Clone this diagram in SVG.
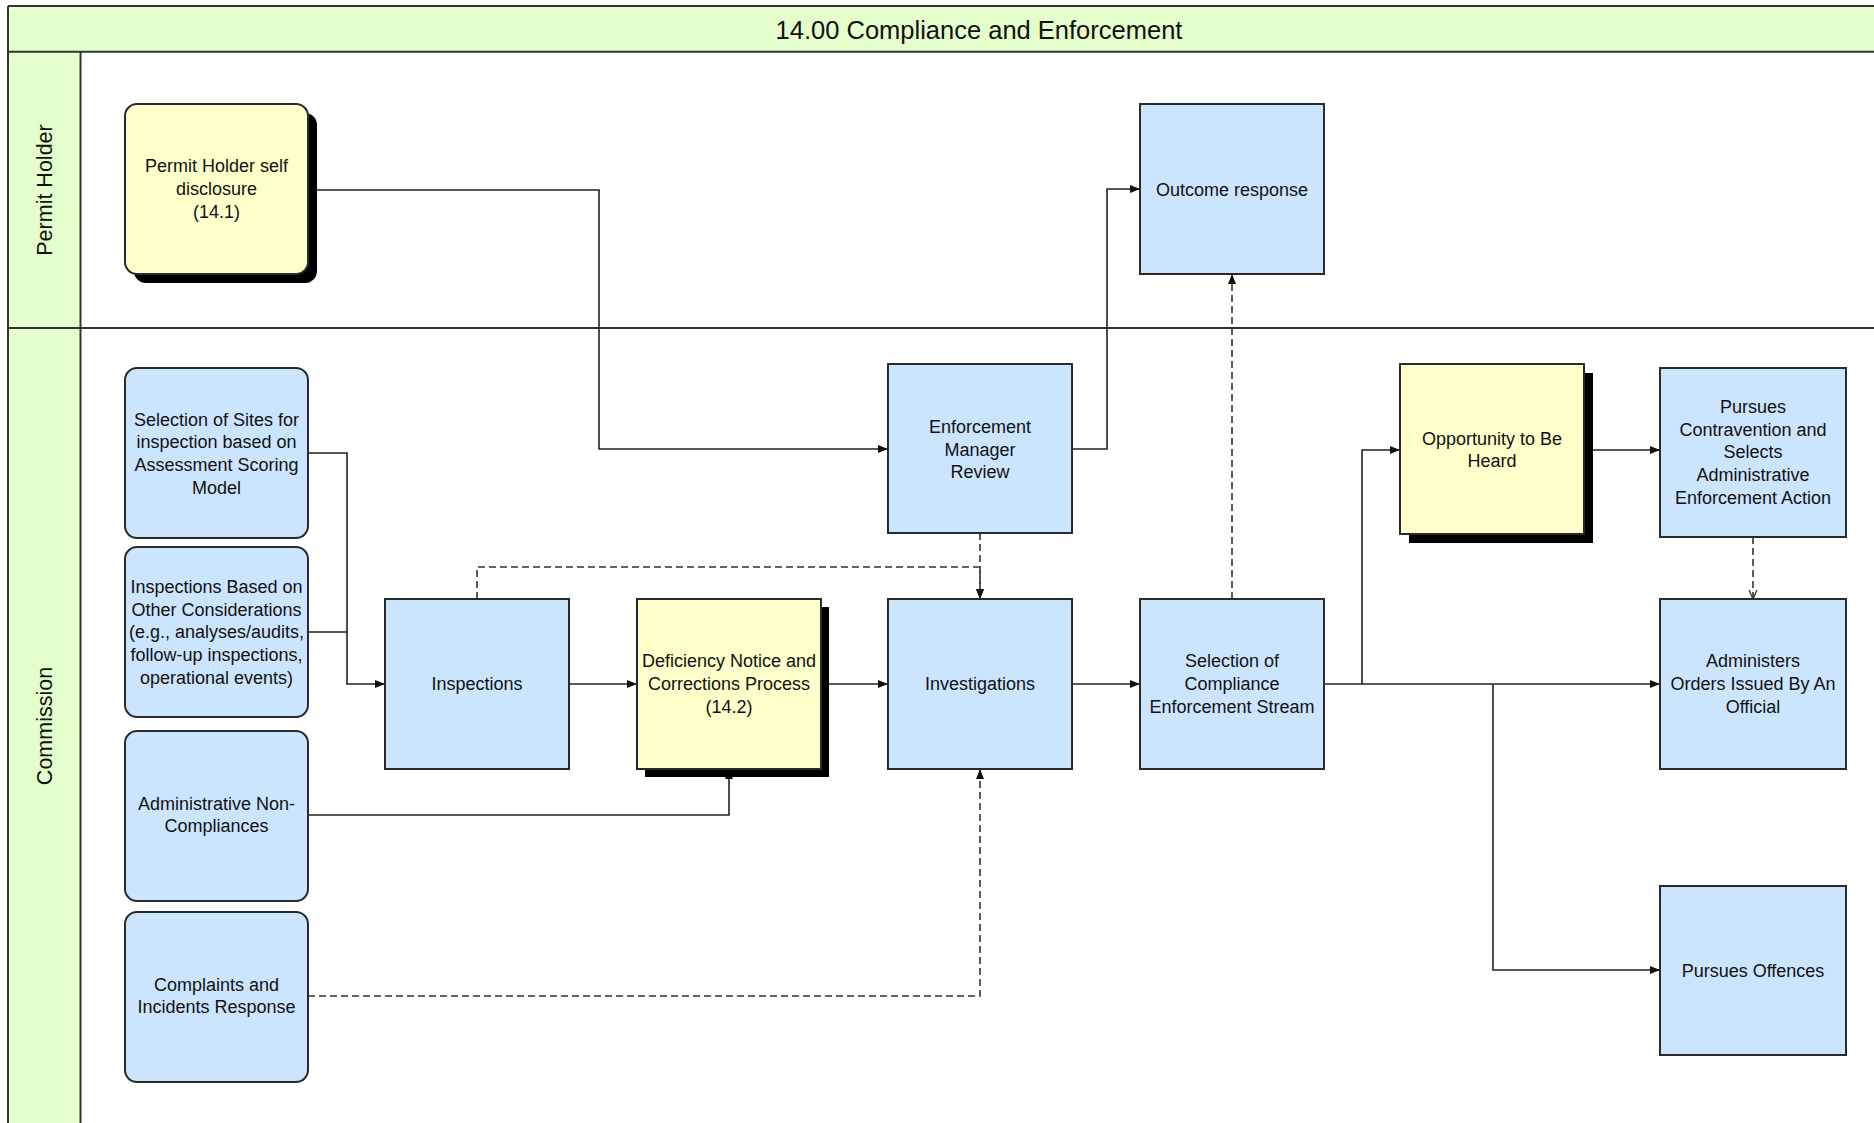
<svg xmlns="http://www.w3.org/2000/svg" width="1874" height="1123" viewBox="0 0 1874 1123">
<defs>
<marker id="arr" viewBox="0 0 10 10" refX="10" refY="5" markerWidth="10" markerHeight="10" markerUnits="userSpaceOnUse" orient="auto"><path d="M0,1 L10,5 L0,9 z" fill="#111"/></marker>
<marker id="open" viewBox="0 0 10 10" refX="10" refY="5" markerWidth="10" markerHeight="10" markerUnits="userSpaceOnUse" orient="auto"><path d="M1,1 L10,5 L1,9" fill="none" stroke="#333" stroke-width="1.3"/></marker>
</defs>
<style>
.lane{fill:#E5FFCC;stroke:none}
.ln{stroke:#333;stroke-width:2;fill:none}
.blue{fill:#CCE5FF;stroke:#2a2a2a;stroke-width:2}
.yel{fill:#FFFFCC;stroke:#2a2a2a;stroke-width:2}
.sh{fill:#000}
.t{font-family:"Liberation Sans",Arial,sans-serif;font-size:18px;fill:#111;text-anchor:middle}
.lt{font-family:"Liberation Sans",Arial,sans-serif;font-size:21.5px;fill:#111;text-anchor:middle}
.tt{font-family:"Liberation Sans",Arial,sans-serif;font-size:25.5px;fill:#111;text-anchor:middle}
.c{fill:none;stroke:#222;stroke-width:1.6}
.d{stroke-dasharray:7 4;stroke:#333}
</style>
<rect x="0" y="0" width="1874" height="1123" fill="#fff"/>
<g id="pool">
<rect class="lane" x="8" y="6" width="1866" height="45.7"/>
<rect class="lane" x="8" y="51.7" width="72.5" height="1072"/>
<path class="ln" d="M8,6 H1874 M8,51.7 H1874 M8,328 H1874 M8,6 V1123 M80.5,51.7 V1123"/>
<text class="tt" x="979" y="38.5">14.00 Compliance and Enforcement</text>
<text class="lt" transform="translate(52,190) rotate(-90)">Permit Holder</text>
<text class="lt" transform="translate(52,726) rotate(-90)">Commission</text>
</g>
<g id="connectors">
<path class="c" d="M308,190 H599 V449 H888" marker-end="url(#arr)"/>
<path class="c" d="M1072,449 H1107 V189 H1140" marker-end="url(#arr)"/>
<path class="c d" d="M1232,599 V274" marker-end="url(#arr)"/>
<path class="c" d="M308,453 H347 V684 H385" marker-end="url(#arr)"/>
<path class="c" d="M308,632 H347"/>
<path class="c" d="M569,684 H637" marker-end="url(#arr)"/>
<path class="c" d="M829,684 H888" marker-end="url(#arr)"/>
<path class="c d" d="M477,599 V567 H980 V599" marker-end="url(#arr)"/>
<path class="c d" d="M980,533 V599" marker-end="url(#arr)"/>
<path class="c" d="M308,815 H729 V769" marker-end="url(#arr)"/>
<path class="c d" d="M308,996 H980 V769" marker-end="url(#arr)"/>
<path class="c" d="M1072,684 H1140" marker-end="url(#arr)"/>
<path class="c" d="M1324,684 H1660" marker-end="url(#arr)"/>
<path class="c" d="M1362,684 V450 H1400" marker-end="url(#arr)"/>
<path class="c" d="M1493,684 V970 H1660" marker-end="url(#arr)"/>
<path class="c" d="M1593,450 H1660" marker-end="url(#arr)"/>
<path class="c d" d="M1753,537 V599" marker-end="url(#open)"/>
</g>
<g id="n-permit-holder-self-disclosure">
<rect class="sh" x="134" y="113" width="183" height="170" rx="12"/>
<rect class="yel" x="125" y="104" width="183" height="170" rx="12"/>
<text class="t" x="216.5"><tspan x="216.5" y="172">Permit Holder self</tspan><tspan x="216.5" y="195">disclosure</tspan><tspan x="216.5" y="218">(14.1)</tspan></text>
</g>
<g id="n-outcome-response">
<rect class="blue" x="1140" y="104" width="184" height="170"/>
<text class="t" x="1232" y="195.5">Outcome response</text>
</g>
<g id="n-selection-of-sites">
<rect class="blue" x="125" y="368" width="183" height="170" rx="12"/>
<text class="t"><tspan x="216.5" y="425.5">Selection of Sites for</tspan><tspan x="216.5" y="448.2">inspection based on</tspan><tspan x="216.5" y="470.9">Assessment Scoring</tspan><tspan x="216.5" y="493.6">Model</tspan></text>
</g>
<g id="n-inspections-based-on-other">
<rect class="blue" x="125" y="547" width="183" height="170" rx="12"/>
<text class="t"><tspan x="216.5" y="593">Inspections Based on</tspan><tspan x="216.5" y="615.7">Other Considerations</tspan><tspan x="216.5" y="638.4">(e.g., analyses/audits,</tspan><tspan x="216.5" y="661.1">follow-up inspections,</tspan><tspan x="216.5" y="683.8">operational events)</tspan></text>
</g>
<g id="n-administrative-non-compliances">
<rect class="blue" x="125" y="731" width="183" height="170" rx="12"/>
<text class="t"><tspan x="216.5" y="809.6">Administrative Non-</tspan><tspan x="216.5" y="832.3">Compliances</tspan></text>
</g>
<g id="n-complaints">
<rect class="blue" x="125" y="912" width="183" height="170" rx="12"/>
<text class="t"><tspan x="216.5" y="990.6">Complaints and</tspan><tspan x="216.5" y="1013.3">Incidents Response</tspan></text>
</g>
<g id="n-inspections">
<rect class="blue" x="385" y="599" width="184" height="170"/>
<text class="t" x="477" y="690">Inspections</text>
</g>
<g id="n-deficiency-notice">
<rect class="sh" x="645" y="607" width="184" height="170"/>
<rect class="yel" x="637" y="599" width="184" height="170"/>
<text class="t"><tspan x="729" y="667.3">Deficiency Notice and</tspan><tspan x="729" y="690">Corrections Process</tspan><tspan x="729" y="712.7">(14.2)</tspan></text>
</g>
<g id="n-enforcement-manager-review">
<rect class="blue" x="888" y="364" width="184" height="169"/>
<text class="t"><tspan x="980" y="433">Enforcement</tspan><tspan x="980" y="455.7">Manager</tspan><tspan x="980" y="478.4">Review</tspan></text>
</g>
<g id="n-investigations">
<rect class="blue" x="888" y="599" width="184" height="170"/>
<text class="t" x="980" y="690">Investigations</text>
</g>
<g id="n-selection-compliance-stream">
<rect class="blue" x="1140" y="599" width="184" height="170"/>
<text class="t"><tspan x="1232" y="667.3">Selection of</tspan><tspan x="1232" y="690">Compliance</tspan><tspan x="1232" y="712.7">Enforcement Stream</tspan></text>
</g>
<g id="n-opportunity-to-be-heard">
<rect class="sh" x="1409" y="373" width="184" height="170"/>
<rect class="yel" x="1400" y="364" width="184" height="170"/>
<text class="t"><tspan x="1492" y="444.6">Opportunity to Be</tspan><tspan x="1492" y="467.3">Heard</tspan></text>
</g>
<g id="n-pursues-contravention">
<rect class="blue" x="1660" y="368" width="186" height="169"/>
<text class="t"><tspan x="1753" y="412.8">Pursues</tspan><tspan x="1753" y="435.5">Contravention and</tspan><tspan x="1753" y="458.2">Selects</tspan><tspan x="1753" y="480.9">Administrative</tspan><tspan x="1753" y="503.6">Enforcement Action</tspan></text>
</g>
<g id="n-administers-orders">
<rect class="blue" x="1660" y="599" width="186" height="170"/>
<text class="t"><tspan x="1753" y="667.3">Administers</tspan><tspan x="1753" y="690">Orders Issued By An</tspan><tspan x="1753" y="712.7">Official</tspan></text>
</g>
<g id="n-pursues-offences">
<rect class="blue" x="1660" y="886" width="186" height="169"/>
<text class="t" x="1753" y="977">Pursues Offences</text>
</g>
</svg>
